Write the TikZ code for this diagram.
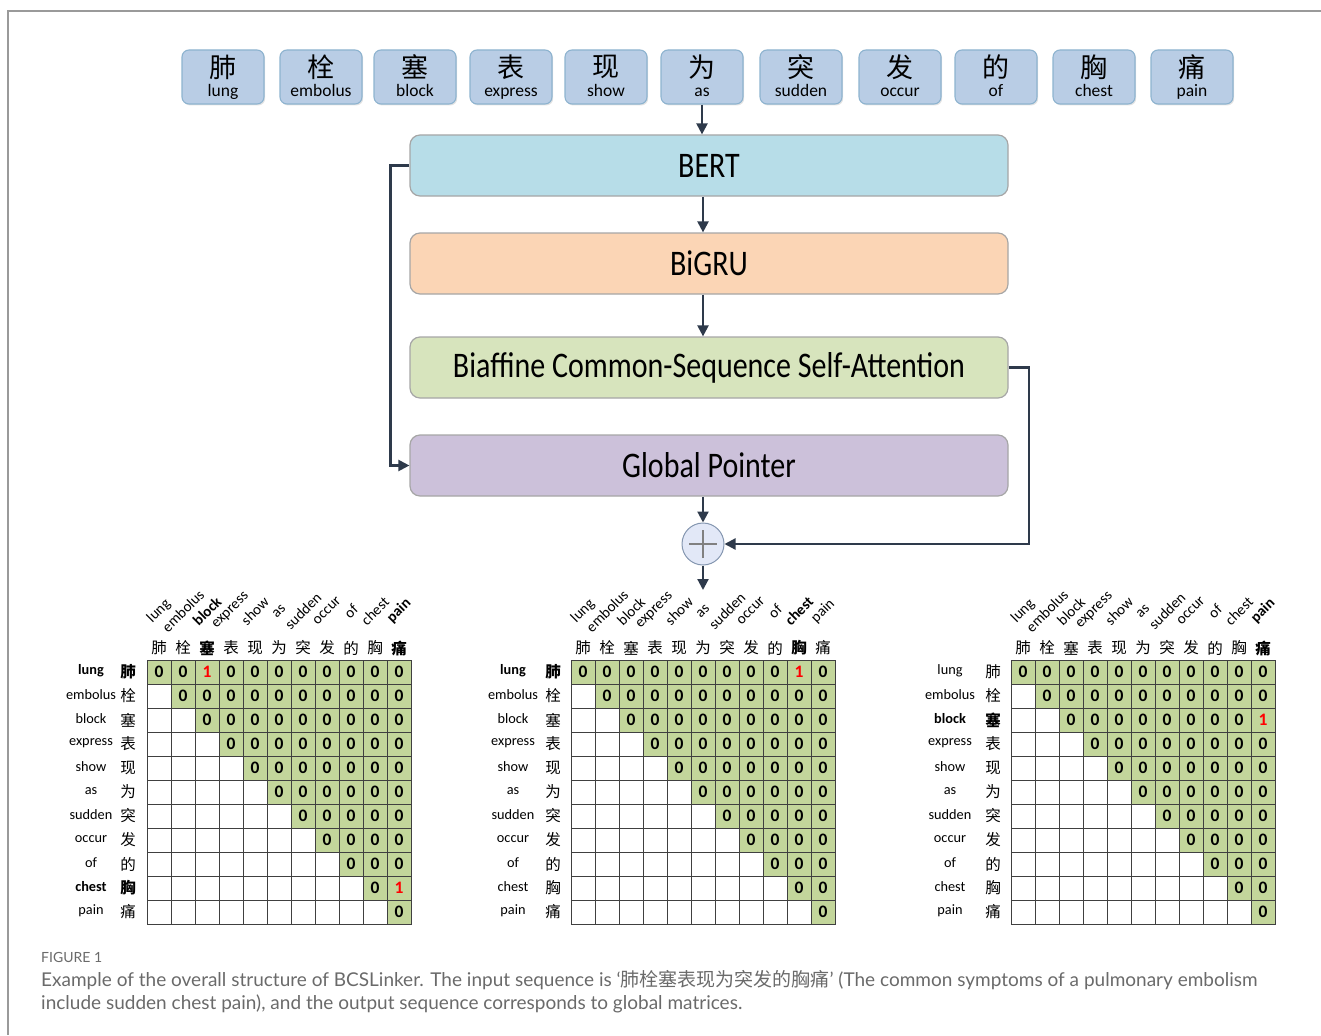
\documentclass[tikz,border=0pt]{standalone}
\usepackage{fontspec}
\setmainfont{Carlito}
\newfontfamily\cjk{Noto Sans CJK SC}
\newfontfamily\capfont{Lato}
\usetikzlibrary{arrows.meta,shadows}

% membership test on '+'-separated lists
\makeatletter
\newcommand\IfMember[4]{\edef\mm@tmp{\noexpand\in@{+#1+}{+#2+}}\mm@tmp\ifin@#3\else#4\fi}
\makeatother

\definecolor{tokfill}{HTML}{B9CDE5}
\definecolor{tokdraw}{HTML}{8DB3CF}
\definecolor{bertfill}{HTML}{B7DDE8}
\definecolor{grufill}{HTML}{FBD5B5}
\definecolor{biafill}{HTML}{D7E4BD}
\definecolor{gpfill}{HTML}{CCC1DA}
\definecolor{boxdraw}{HTML}{A6A6A6}
\definecolor{arrowc}{HTML}{2E3A4B}
\definecolor{cellgreen}{HTML}{C3D69B}
\definecolor{gridc}{HTML}{404040}
\definecolor{capc}{HTML}{6A6A6A}
\definecolor{framec}{HTML}{9A9A9A}
\definecolor{plusfill}{HTML}{E2E8F7}
\definecolor{plusdraw}{HTML}{8496B0}

\newcommand\stagetext[1]{\scalebox{1}[1.2]{\fontsize{30}{30}\selectfont #1}}

\tikzset{
  token/.style={rounded corners=7pt, fill=tokfill, draw=tokdraw, line width=1.1pt,
    minimum width=82pt, minimum height=54pt, inner sep=0pt,
    drop shadow={shadow xshift=1.2pt, shadow yshift=-1.5pt, opacity=0.22}},
  stage/.style={rounded corners=10pt, draw=boxdraw, line width=1.2pt,
    minimum width=598pt, minimum height=61pt, inner sep=0pt},
  arr/.style={draw=arrowc, line width=2.2pt, -{Triangle[length=11pt,width=11pt]}},
  cellw/.style={draw=gridc, line width=0.8pt, minimum size=24pt, inner sep=0pt, fill=white},
  cellv/.style={cellw, fill=cellgreen, font=\fontsize{17.5}{17.5}\selectfont\bfseries},
  rotlab/.style={rotate=45, inner sep=0pt, font=\fontsize{15}{15}\selectfont},
  colzh/.style={inner sep=0pt, font=\cjk\fontsize{15.5}{15.5}\selectfont},
  rowen/.style={inner sep=0pt, font=\fontsize{14.3}{14.3}\selectfont},
  rowzh/.style={inner sep=0pt, font=\cjk\fontsize{15.5}{15.5}\selectfont},
}

\def\toklist{1/肺/lung,2/栓/embolus,3/塞/block,4/表/express,5/现/show,6/为/as,7/突/sudden,8/发/occur,9/的/of,10/胸/chest,11/痛/pain}

\begin{document}
\begin{tikzpicture}[x=1pt,y=-1pt]
\useasboundingbox (0,0) rectangle (1321,1035);

% page frame
\draw[framec, line width=1.2pt] (1321,11) -- (8,11) -- (8,1035);

% input tokens
\foreach \x/\zh/\en [count=\i] in {223/肺/lung,321/栓/embolus,415/塞/block,511/表/express,606/现/show,702/为/as,801/突/sudden,900/发/occur,996/的/of,1094/胸/chest,1192/痛/pain}{
  \node[token] (t\i) at (\x,77) {};
  \node[inner sep=0pt, font=\cjk\fontsize{27}{27}\selectfont] (tz\i) at (\x,67) {\zh};
  \node[inner sep=0pt, anchor=base, font=\fontsize{17.5}{17.5}\selectfont] (te\i) at (\x,97) {\en};
}

% model stages
\node[stage, fill=bertfill] (bert) at (709,165.5) {\stagetext{BERT}};
\node[stage, fill=grufill] (gru) at (709,263.5) {\stagetext{BiGRU}};
\node[stage, fill=biafill] (bia) at (709,367.5) {\stagetext{Biaffine Common-Sequence Self-Attention}};
\node[stage, fill=gpfill] (gp) at (709,465.5) {\stagetext{Global Pointer}};

% element-wise addition
\node[circle, minimum size=42pt, inner sep=0pt, fill=plusfill, draw=plusdraw, line width=1pt] (plus) at (703,544) {};
\draw[gray, line width=1.4pt] ([xshift=-14pt]plus.center) -- ([xshift=14pt]plus.center);
\draw[gray, line width=1.4pt] ([yshift=-14pt]plus.center) -- ([yshift=14pt]plus.center);
\coordinate (mout) at (703,590);

% connectors
\draw[arr] (t6.south) -- (t6.south |- bert.north);
\draw[arr] (bert.south -| plus) -- (gru.north -| plus);
\draw[arr] (gru.south -| plus) -- (bia.north -| plus);
\draw[arr] (gp.south -| plus) -- (plus.north);
\draw[arr] (bert.west) -- ++(-19,0) |- (gp.west);
\draw[arr] (bia.east) -- ++(20,0) |- (plus.east);
\draw[arr] (plus.south) -- (mout);

% global matrices
\foreach \mk/\mx/\mex/\mcx/\mones/\mbr/\mbc in {L/147/91/128/1-3+10-11/1+10/3+11, M/571/513/553/1-10/1/10, R/1011/950/993/3-11/3/11}{
  \foreach \ri in {1,...,11}{
    \foreach \ci in {1,...,11}{
      \ifnum\ci<\ri\relax
        \node[cellw] (\mk-\ri-\ci) at ({\mx+24*\ci-12},{648+24*\ri}) {};
      \else
        \node[cellv] (\mk-\ri-\ci) at ({\mx+24*\ci-12},{648+24*\ri}) {\IfMember{\ri-\ci}{\mones}{\textcolor{red}{1}}{0}};
      \fi
    }
  }
  \foreach \ii/\zh/\en in \toklist{
    \node[colzh] (\mk-cz\ii) at ({\mx+24*\ii-12},648) {\IfMember{\ii}{\mbc}{\bfseries}{}\zh};
    \node[rotlab] (\mk-ce\ii) at ({\mx+24*\ii-12},611) {\IfMember{\ii}{\mbc}{\bfseries}{}\en};
    \node[rowen] (\mk-re\ii) at (\mex,{647+24*\ii}) {\IfMember{\ii}{\mbr}{\bfseries}{}\en};
    \node[rowzh] (\mk-rz\ii) at (\mcx,{648+24*\ii}) {\IfMember{\ii}{\mbr}{\bfseries}{}\zh};
  }
}

% caption
\node[anchor=base west, inner sep=0pt, text=capc, font=\capfont\fontsize{14}{14}\selectfont] (figno) at (41,962) {FIGURE 1};
\node[anchor=base west, inner sep=0pt, text=capc, font=\capfont\fontsize{19}{19}\selectfont] (cap1) at (41,986) {Example of the overall structure of BCSLinker. The input sequence is ‘{\cjk 肺栓塞表现为突发的胸痛}’ (The common symptoms of a pulmonary embolism};
\node[anchor=base west, inner sep=0pt, text=capc, font=\capfont\fontsize{19}{19}\selectfont] (cap2) at (41,1009) {include sudden chest pain), and the output sequence corresponds to global matrices.};
\end{tikzpicture}
\end{document}
